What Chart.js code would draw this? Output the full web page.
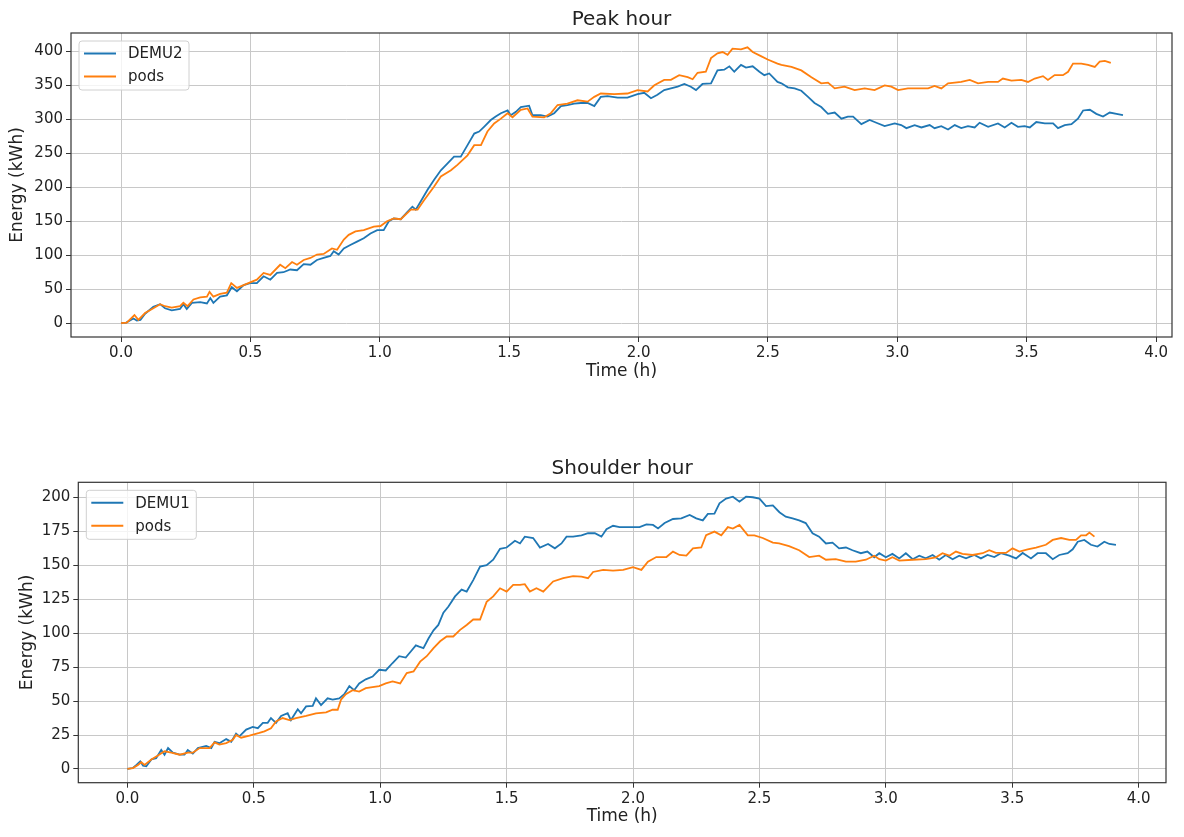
<!DOCTYPE html>
<html><head><meta charset="utf-8">
<script src="https://cdn.jsdelivr.net/npm/chart.js@4.4.0/dist/chart.umd.min.js"></script>
<style>
html,body{margin:0;padding:0;background:#fff;}
#c1{position:absolute;left:0;top:0;}
#c2{position:absolute;left:0;top:400px;}
</style>
</head><body>
<canvas id="c1" width="1184" height="400"></canvas>
<canvas id="c2" width="1184" height="437"></canvas>
<script>
// ---------- Peak hour ----------
const peakTitle = "Peak hour";
const peakDemuLabel = "DEMU2";
const peakDemuT = [0,0.02,0.048,0.061,0.075,0.093,0.125,0.151,0.170,0.196,0.228,0.241,0.254,0.274,0.306,0.332,0.345,0.357,0.383,0.409,0.428,0.448,0.474,0.499,0.525,0.551,0.577,0.603,0.628,0.654,0.680,0.706,0.732,0.757,0.783,0.809,0.822,0.841,0.861,0.886,0.912,0.938,0.964,0.990,1.015,1.035,1.054,1.081,1.107,1.126,1.139,1.158,1.184,1.210,1.236,1.262,1.287,1.313,1.339,1.365,1.384,1.403,1.429,1.448,1.468,1.494,1.506,1.526,1.545,1.577,1.590,1.622,1.648,1.674,1.700,1.725,1.751,1.777,1.803,1.829,1.854,1.880,1.919,1.957,1.996,2.022,2.048,2.073,2.099,2.125,2.151,2.177,2.202,2.222,2.247,2.280,2.305,2.331,2.351,2.370,2.396,2.415,2.441,2.467,2.486,2.505,2.537,2.552,2.577,2.603,2.629,2.655,2.680,2.706,2.732,2.758,2.784,2.809,2.829,2.861,2.893,2.919,2.951,2.990,3.015,3.035,3.067,3.093,3.125,3.144,3.170,3.196,3.222,3.247,3.273,3.299,3.318,3.351,3.389,3.415,3.441,3.466,3.492,3.512,3.537,3.570,3.602,3.621,3.647,3.673,3.698,3.718,3.744,3.769,3.795,3.821,3.847,3.872];
const peakDemuE = [0,1,7,4,5,14,24,28,22,19,21,28,21,30,31,29,37,30,39,41,53,47,56,59,59,69,64,74,75,79,78,87,86,93,96,99,106,101,110,115,120,125,132,137,137,150,154,153,164,171.5,167,179,196,211,225,235,245,245,262,279,282,289,299,304,309,313,306,311,318,320,306,306,304,309,319.5,321,323,324,324,319.5,333,334,332,332,337,339,331,336,343,345.5,348,352,348,343,352,353,372,373,378,370,380,376,378,370,365,367.5,355,353,347,345.5,342,333,324,318,308,310,301,304,304,293,299,295,290,294,291.5,287,291.5,288,291.5,287,290,285,291.5,287,290,288,295,289,294,288,295,289,290,288,296,294,294,287,291.5,293,301,313,314,308,304,310,308,306];
const peakPodsLabel = "pods";
const peakPodsT = [0,0.022,0.052,0.067,0.093,0.125,0.151,0.170,0.196,0.228,0.241,0.257,0.280,0.306,0.332,0.342,0.357,0.383,0.409,0.426,0.448,0.474,0.499,0.525,0.551,0.577,0.615,0.635,0.661,0.680,0.706,0.732,0.757,0.783,0.815,0.835,0.861,0.880,0.906,0.938,0.977,1.003,1.028,1.054,1.081,1.120,1.146,1.171,1.210,1.236,1.275,1.300,1.339,1.365,1.391,1.416,1.442,1.468,1.494,1.513,1.545,1.571,1.590,1.635,1.661,1.687,1.725,1.764,1.803,1.829,1.854,1.906,1.957,1.996,2.035,2.061,2.099,2.125,2.157,2.190,2.209,2.228,2.260,2.280,2.305,2.325,2.344,2.363,2.396,2.421,2.441,2.473,2.499,2.537,2.552,2.591,2.629,2.668,2.706,2.732,2.758,2.796,2.835,2.874,2.912,2.951,2.977,3.003,3.041,3.080,3.119,3.144,3.170,3.196,3.222,3.247,3.280,3.312,3.351,3.389,3.408,3.441,3.479,3.505,3.531,3.563,3.582,3.608,3.640,3.660,3.679,3.711,3.737,3.763,3.782,3.802,3.825];
const peakPodsE = [0,1,12,5,15,22,28,25,23,25,30,25,35,38,39,46,39,43,45,59,52,56,60,64,74,71,86,81,90,86,93,96,101,102,110,108,123,130,135,137,142,143,150,154,153,167,167,181,201,216,225,233,247,262,262,282,294,301,309,303,314,316,304,303,309,321,323,328,326,333,338,337,338,343,341,350,358,358,365,362,359,368.5,370,390,397,399,395,404,403,406,399,393,388,382,380,377,372,362,353,354,345.5,348,343,345.5,343,350,348,343,345.5,345.5,345.5,349,345.5,353,354,355,358,353,355,355,360,357,358,355,360,363.5,358,365,365,370,382,382,380,377,385,386,383];
const peakXTicks = [0.0,0.5,1.0,1.5,2.0,2.5,3.0,3.5,4.0];
const peakYTicks = [0,50,100,150,200,250,300,350,400];

// ---------- Shoulder hour ----------
const shoulderTitle = "Shoulder hour";
const shoulderDemuLabel = "DEMU1";
const shoulderDemuT = [0,0.022,0.036,0.051,0.062,0.075,0.095,0.114,0.134,0.147,0.161,0.180,0.207,0.226,0.239,0.259,0.279,0.312,0.332,0.345,0.364,0.391,0.411,0.430,0.443,0.470,0.496,0.516,0.536,0.555,0.568,0.588,0.608,0.634,0.647,0.674,0.687,0.707,0.733,0.746,0.766,0.792,0.812,0.838,0.858,0.878,0.897,0.917,0.943,0.970,0.996,1.022,1.049,1.075,1.101,1.121,1.141,1.154,1.171,1.191,1.211,1.230,1.250,1.270,1.296,1.322,1.342,1.368,1.395,1.421,1.447,1.474,1.5,1.533,1.553,1.572,1.605,1.632,1.664,1.691,1.717,1.737,1.763,1.796,1.822,1.849,1.875,1.895,1.921,1.947,1.987,2.026,2.053,2.079,2.099,2.125,2.158,2.191,2.224,2.250,2.276,2.296,2.322,2.342,2.368,2.395,2.421,2.447,2.474,2.5,2.526,2.553,2.579,2.604,2.631,2.657,2.683,2.710,2.736,2.763,2.789,2.815,2.842,2.868,2.901,2.927,2.954,2.974,3.0,3.026,3.053,3.079,3.106,3.132,3.158,3.185,3.211,3.237,3.264,3.290,3.317,3.350,3.376,3.402,3.429,3.455,3.488,3.515,3.541,3.574,3.600,3.633,3.660,3.686,3.719,3.739,3.759,3.785,3.811,3.837,3.864,3.884,3.910];
const shoulderDemuE = [0,0.7,3,5.6,2.5,2,7,8,14,10.5,15.4,12,10.5,10.5,14,11.3,15.4,17,15.4,20,19,22,20,26,24,29,31,30,34,34,37.5,34,39,41,36,44,41,46,46.5,52,47,52,51,52,55,61,58,63,66,68,73,72.5,78,83,82,86.5,91,90,89,96,102,106,115,119.6,127,132,130.6,139,149,150,154,162,163,168,166,171,170,163,165.6,162.4,166,171,171,172,173.5,173.5,171,176.4,179,178,178,178,180,179.6,177,181,184,184.5,187,184.5,183,187.7,188,195.5,199,200.4,196.7,200.4,200,199,193.5,194,189,185.7,184.5,183,181,173.5,171,166,166.6,162.4,163,161,158.8,160,155.8,158.8,155.8,158.3,155,158.8,154.4,157,155,157.5,154,157.5,154.4,157,155,157.5,155,157.5,156,158.8,157,155,159,155,158.8,158.8,154.4,157.5,158.8,161.7,167.3,168.6,165,163.7,167.3,165.6,165];
const shoulderPodsLabel = "pods";
const shoulderPodsT = [0,0.022,0.042,0.055,0.068,0.095,0.121,0.147,0.174,0.207,0.239,0.259,0.286,0.325,0.345,0.364,0.391,0.417,0.430,0.450,0.483,0.522,0.542,0.568,0.588,0.614,0.641,0.667,0.707,0.746,0.786,0.812,0.832,0.845,0.864,0.891,0.917,0.943,0.996,1.022,1.049,1.079,1.105,1.132,1.158,1.184,1.211,1.237,1.263,1.289,1.316,1.342,1.368,1.395,1.421,1.447,1.474,1.5,1.526,1.553,1.572,1.592,1.618,1.645,1.684,1.724,1.763,1.796,1.822,1.842,1.882,1.921,1.961,2.0,2.033,2.059,2.092,2.132,2.158,2.184,2.211,2.237,2.270,2.289,2.322,2.349,2.375,2.395,2.421,2.454,2.480,2.513,2.553,2.578,2.617,2.657,2.697,2.736,2.763,2.802,2.842,2.881,2.921,2.954,2.974,3.0,3.026,3.053,3.106,3.158,3.198,3.224,3.251,3.277,3.303,3.343,3.383,3.409,3.435,3.475,3.501,3.528,3.561,3.594,3.633,3.660,3.693,3.726,3.752,3.772,3.792,3.805,3.825];
const shoulderPodsE = [0,0.7,3,5,3,7,10,13,12,10.5,12,12,15.4,15.4,19.6,18,19,21.5,25,23,24.5,26.5,27.7,30,35,37.5,36,37.5,39,41,41.7,43.6,43.6,51,55,58,57,59.5,61,63,64.4,63,70.6,71.8,79,83,89,94,97.5,97.5,102.4,106,110,110,123,127,133,130.6,135.5,135.5,136,130.6,133,130.6,138,140.4,142,141.6,140.4,145,146.5,146,146.5,148.5,146.5,152.6,156,156,160,157.5,157,162.4,163,172,174.7,172,178,177,179.6,172,172,170,166.6,166,164,161,156,157,154,154.4,152.6,152.6,154,157,154.4,153.4,155.8,153.4,154,154.4,155.8,158.8,157,160,158.3,157.5,158.8,161,159,159,162.4,160,161.7,163,165,168.6,170,168.6,168.6,172,172,174,171];
const shoulderXTicks = [0.0,0.5,1.0,1.5,2.0,2.5,3.0,3.5,4.0];
const shoulderYTicks = [0,25,50,75,100,125,150,175,200];

const xAxisTitle = "Time (h)";
const yAxisTitle = "Energy (kWh)";

const BLUE = '#1f77b4', ORANGE = '#ff7f0e';
const FONT = "'DejaVu Sans', sans-serif";
const TXT = '#222222';

function pts(t, e){ return t.map((v,i)=>({x:v, y:e[i]})); }

const framePlugin = {
  id: 'frameLegend',
  afterDraw(chart){
    const ctx = chart.ctx, a = chart.chartArea;
    ctx.save();
    ctx.strokeStyle = '#333333';
    ctx.lineWidth = 1.2;
    ctx.strokeRect(a.left, a.top, a.right - a.left, a.bottom - a.top);
    // legend box (matplotlib-style, upper left inside axes)
    const bx = a.left + 8, by = a.top + 8, bw = 110, bh = 49, r = 3;
    ctx.beginPath();
    ctx.moveTo(bx + r, by);
    ctx.lineTo(bx + bw - r, by); ctx.quadraticCurveTo(bx + bw, by, bx + bw, by + r);
    ctx.lineTo(bx + bw, by + bh - r); ctx.quadraticCurveTo(bx + bw, by + bh, bx + bw - r, by + bh);
    ctx.lineTo(bx + r, by + bh); ctx.quadraticCurveTo(bx, by + bh, bx, by + bh - r);
    ctx.lineTo(bx, by + r); ctx.quadraticCurveTo(bx, by, bx + r, by);
    ctx.closePath();
    ctx.fillStyle = 'rgba(255,255,255,0.8)';
    ctx.fill();
    ctx.strokeStyle = '#d0d0d0';
    ctx.lineWidth = 1;
    ctx.stroke();
    chart.data.datasets.forEach((ds, i) => {
      const y = by + 12.5 + i * 23;
      ctx.strokeStyle = ds.borderColor;
      ctx.lineWidth = 2;
      ctx.beginPath(); ctx.moveTo(bx + 5, y); ctx.lineTo(bx + 37, y); ctx.stroke();
      ctx.fillStyle = TXT;
      ctx.font = '15px ' + FONT;
      ctx.textBaseline = 'middle';
      ctx.textAlign = 'left';
      ctx.fillText(ds.label, bx + 49, y + 1);
    });
    ctx.restore();
  }
};

function makeChart(id, o){
  return new Chart(document.getElementById(id), {
    type: 'line',
    data: { datasets: [
      { label: o.l1, data: pts(o.t1, o.e1), borderColor: BLUE, borderWidth: 1.8, pointRadius: 0, tension: 0, fill: false, order: 2 },
      { label: o.l2, data: pts(o.t2, o.e2), borderColor: ORANGE, borderWidth: 1.8, pointRadius: 0, tension: 0, fill: false, order: 1 }
    ]},
    options: {
      responsive: false, animation: false, devicePixelRatio: 1,
      layout: { padding: { left: 0, right: o.padRight, top: 0, bottom: 0 } },
      plugins: {
        legend: { display: false },
        tooltip: { enabled: false },
        title: { display: true, text: o.title, color: TXT, fullSize: false,
                 font: { family: FONT, size: 20, weight: 'normal' },
                 padding: { top: o.titleTop, bottom: o.titleBottom } }
      },
      scales: {
        x: {
          type: 'linear', min: o.xmin, max: o.xmax,
          afterFit(s){ s.height = o.xAxisH; },
          afterBuildTicks(s){ s.ticks = o.xticks.map(v => ({ value: v })); },
          ticks: { color: TXT, font: { family: FONT, size: 15 }, padding: 2, maxRotation: 0, autoSkip: false,
                   callback: v => Number(v).toFixed(1) },
          grid: { color: '#c8c8c8', lineWidth: 1, tickLength: 5, tickColor: '#333333', tickWidth: 1 },
          border: { display: false },
          title: { display: true, text: xAxisTitle, color: TXT, font: { family: FONT, size: 17 },
                   padding: { top: 0, bottom: o.xTitlePad } }
        },
        y: {
          type: 'linear', min: o.ymin, max: o.ymax,
          afterFit(s){ s.width = o.yAxisW; },
          afterBuildTicks(s){ s.ticks = o.yticks.map(v => ({ value: v })); },
          ticks: { color: TXT, font: { family: FONT, size: 15 }, padding: 3, autoSkip: false,
                   callback: v => String(v) },
          grid: { color: '#c8c8c8', lineWidth: 1, tickLength: 5, tickColor: '#333333', tickWidth: 1 },
          border: { display: false },
          title: { display: true, text: yAxisTitle, color: TXT, font: { family: FONT, size: 17 },
                   padding: { top: o.yTitlePad, bottom: 0 } }
        }
      }
    },
    plugins: [framePlugin]
  });
}

makeChart('c1', {
  title: peakTitle, l1: peakDemuLabel, t1: peakDemuT, e1: peakDemuE,
  l2: peakPodsLabel, t2: peakPodsT, e2: peakPodsE,
  xticks: peakXTicks, yticks: peakYTicks,
  xmin: -0.1933, xmax: 4.0615, ymin: -20.3, ymax: 427,
  padRight: 12, xAxisH: 63, yAxisW: 71, titleTop: 8, titleBottom: 1,
  xTitlePad: 18, yTitlePad: 7.6
});
makeChart('c2', {
  title: shoulderTitle, l1: shoulderDemuLabel, t1: shoulderDemuT, e1: shoulderDemuE,
  l2: shoulderPodsLabel, t2: shoulderPodsT, e2: shoulderPodsE,
  xticks: shoulderXTicks, yticks: shoulderYTicks,
  xmin: -0.194, xmax: 4.108, ymin: -10.1, ymax: 211,
  padRight: 18, xAxisH: 54.3, yAxisW: 78.3, titleTop: 57.2, titleBottom: 1.1,
  xTitlePad: 9.8, yTitlePad: 17.6
});
</script>
</body></html>
